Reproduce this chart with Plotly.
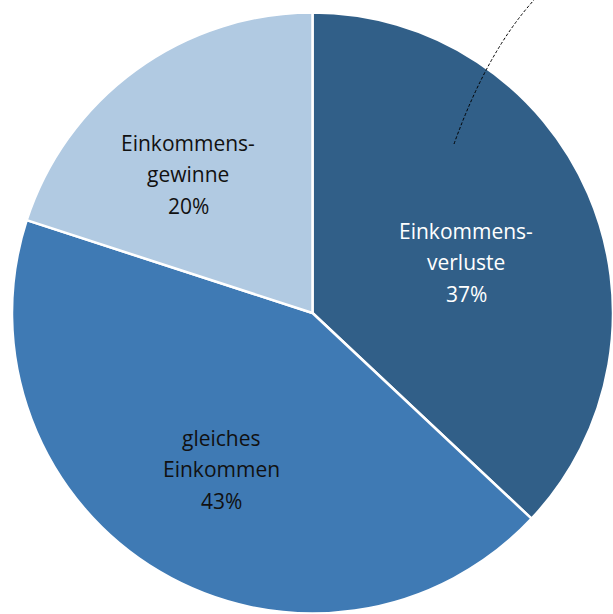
import plotly.graph_objects as go

labels = ["Einkommens-verluste", "gleiches Einkommen", "Einkommens-gewinne"]
label_lines = [["Einkommens-", "verluste"], ["gleiches", "Einkommen"], ["Einkommens-", "gewinne"]]
values = [37, 43, 20]
colors = ["#315F88", "#3F7AB4", "#B1CAE2"]
text_colors = ["white", "#111111", "#111111"]

W, H = 613, 614
# label anchor (pixel) centres for each slice's text block
text_pos = [(466, 262), (221, 469), (188, 174)]
line_gap = 31.5

fig = go.Figure(go.Pie(
    labels=labels, values=values, sort=False, direction="clockwise", rotation=0,
    marker=dict(colors=colors, line=dict(color="white", width=2.5)),
    textinfo="none", hoverinfo="label+percent", showlegend=False,
    domain=dict(x=[12 / W, 1], y=[0, 1 - 12 / H]),
))

total = sum(values)
annotations = []
for lines, v, c, (cx, cy) in zip(label_lines, values, text_colors, text_pos):
    all_lines = lines + [f"{round(100 * v / total)}%"]
    n = len(all_lines)
    for i, t in enumerate(all_lines):
        py = cy + (i - (n - 1) / 2) * line_gap
        annotations.append(dict(
            x=cx / W, y=1 - py / H, xref="paper", yref="paper", text=t,
            showarrow=False, xanchor="center", yanchor="middle",
            font=dict(family="Open Sans", size=21, color=c),
        ))

fig.update_layout(
    width=W, height=H, margin=dict(l=0, r=0, t=0, b=0),
    paper_bgcolor="white", plot_bgcolor="white",
    annotations=annotations,
    shapes=[dict(
        type="path", xref="paper", yref="paper",
        path=f"M {454 / W} {1 - 144 / H} Q {487 / W} {1 - 52 / H} {534 / W} {1 - 0 / H}",
        line=dict(color="black", width=1, dash="3px,2px"),
    )],
)

fig.write_html("out.html", config={"displayModeBar": False},
               post_script="document.body.style.margin='0';document.body.style.overflow='hidden';")
